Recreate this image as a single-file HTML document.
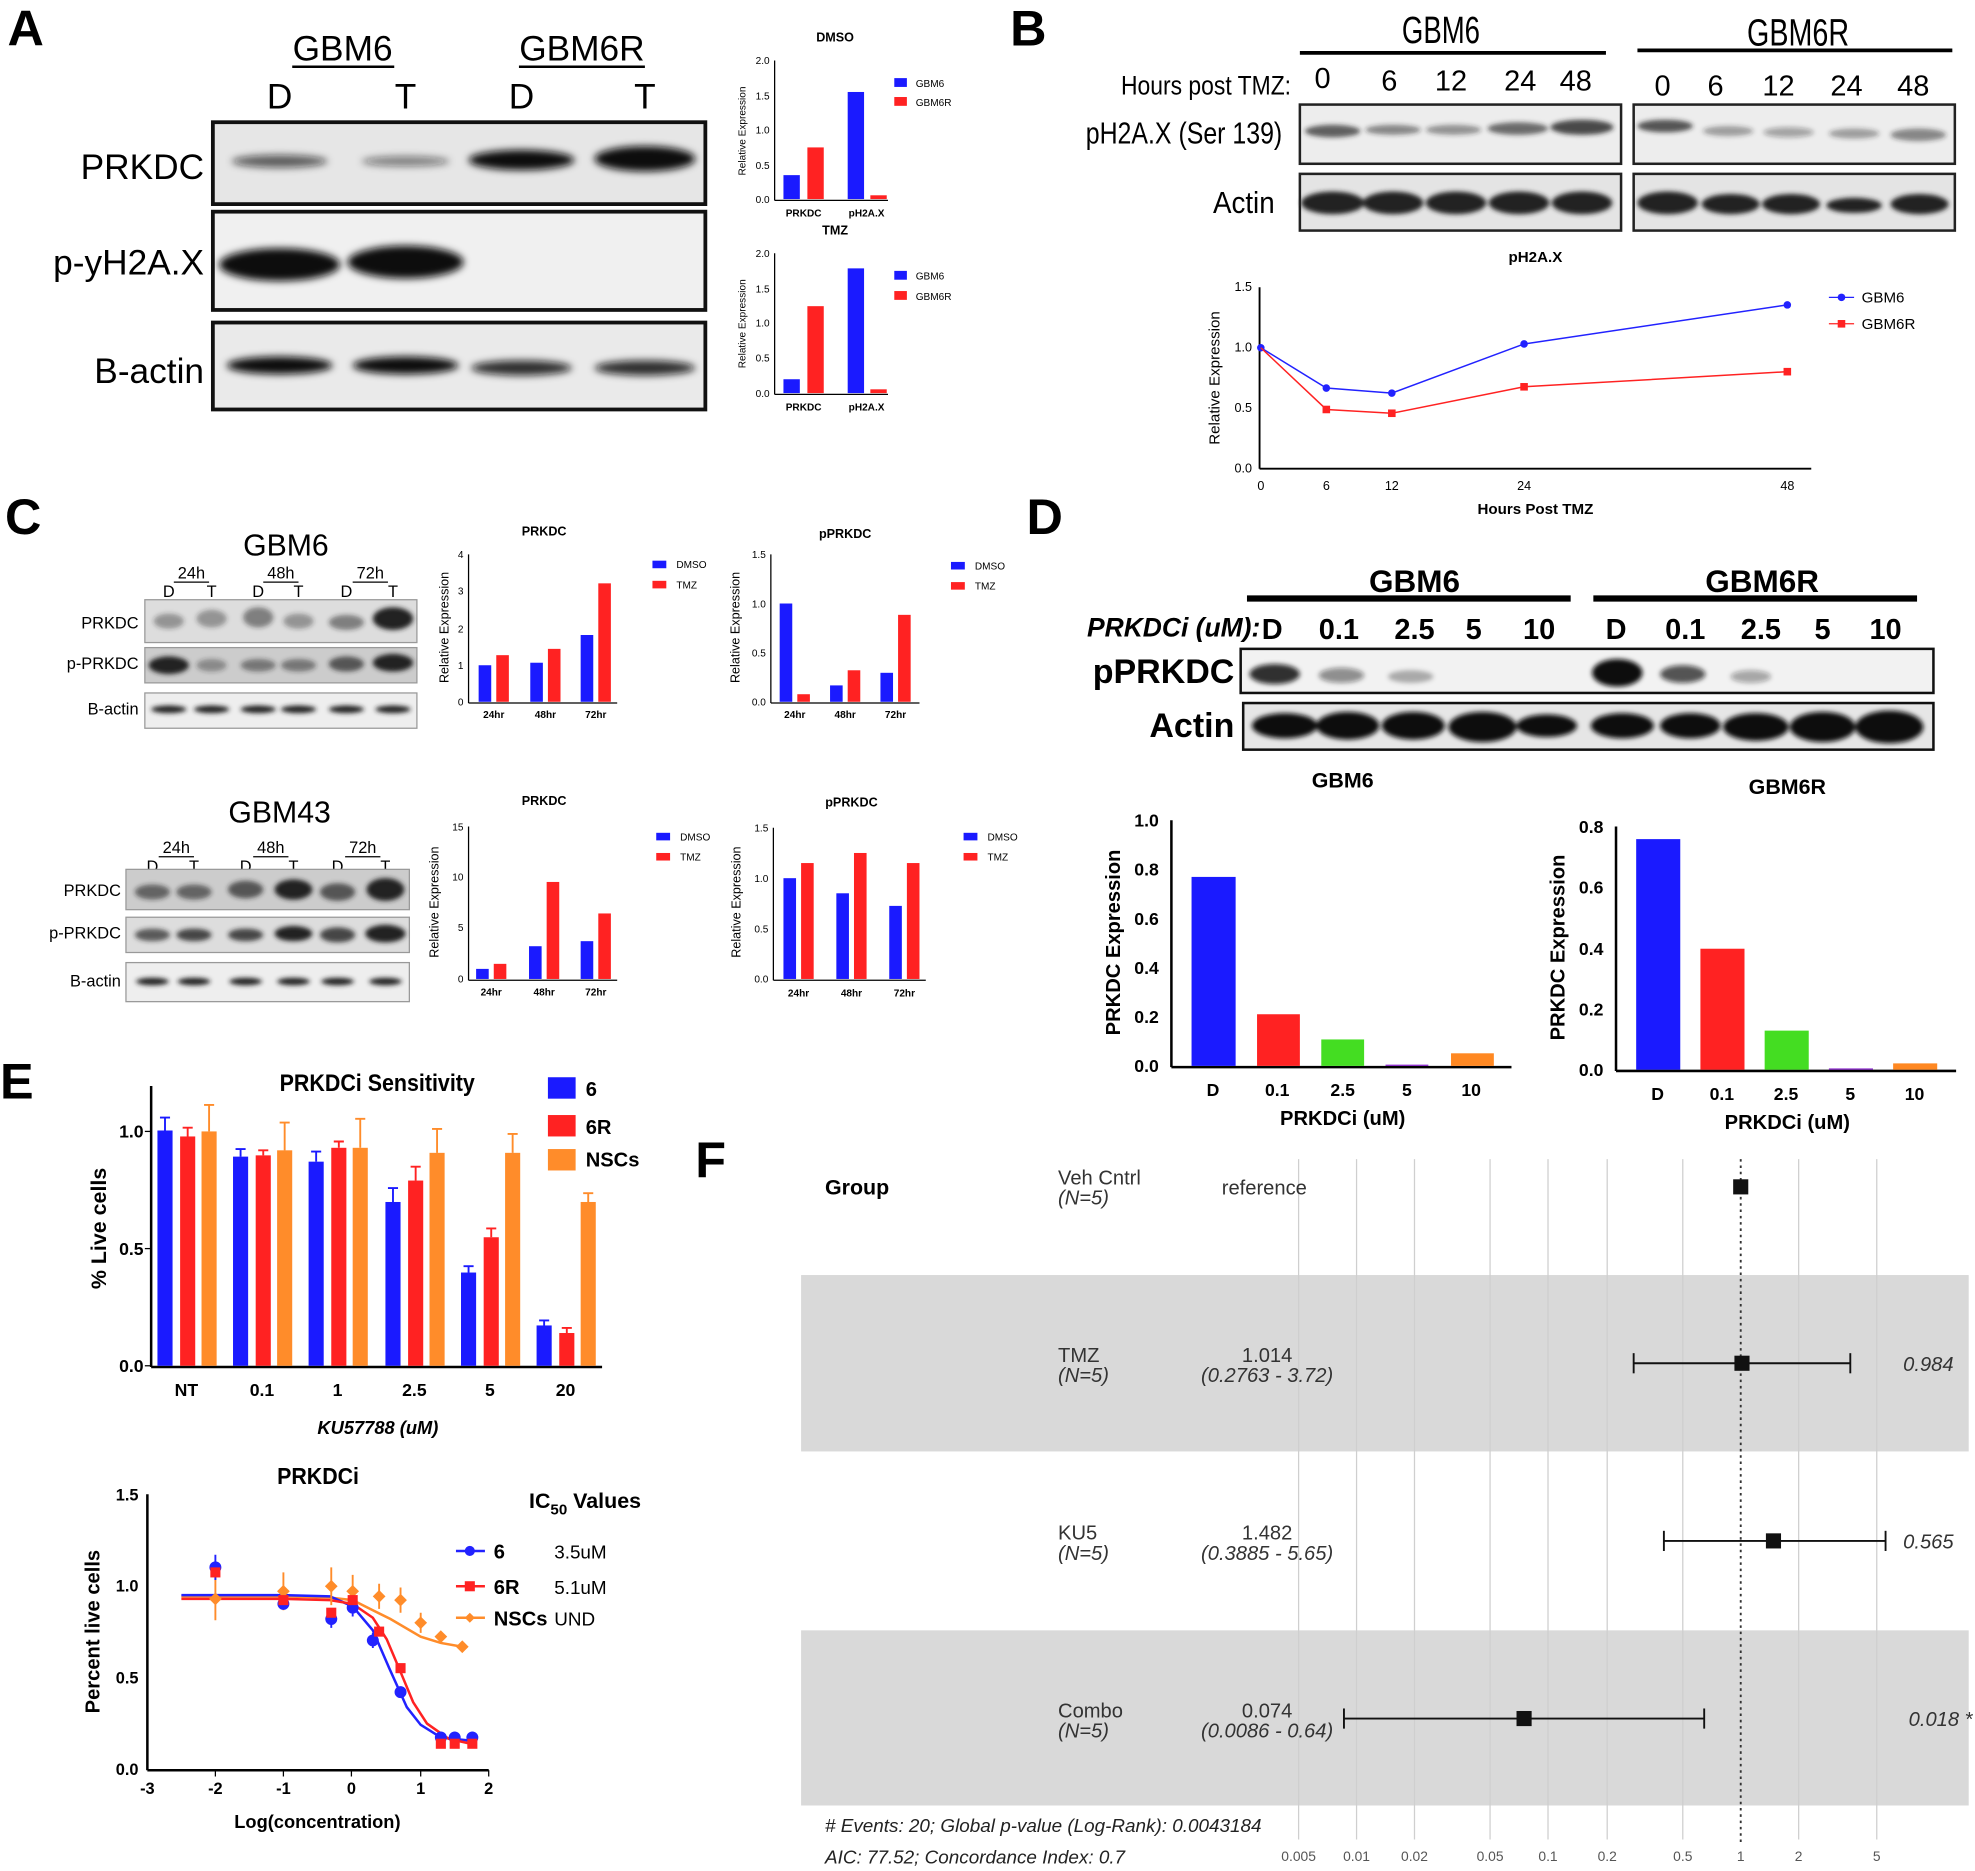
<!DOCTYPE html>
<html><head><meta charset="utf-8"><style>
html,body{margin:0;padding:0;background:#fff;}
svg{display:block;font-family:"Liberation Sans",sans-serif;}
</style></head><body>
<svg width="1975" height="1871" viewBox="0 0 1568 1485" preserveAspectRatio="none" xmlns="http://www.w3.org/2000/svg">
<defs>
<filter id="bl" x="-50%" y="-100%" width="200%" height="300%"><feGaussianBlur stdDeviation="3"/></filter>
<filter id="bl2" x="-50%" y="-100%" width="200%" height="300%"><feGaussianBlur stdDeviation="2"/></filter>
</defs>
<rect width="1568" height="1485" fill="#fff"/>

<!-- ===== Panel A ===== -->
<text x="6" y="36" font-size="40" font-weight="bold">A</text>
<text x="272" y="48" font-size="28" text-anchor="middle">GBM6</text>
<line x1="232" y1="53" x2="313" y2="53" stroke="#000" stroke-width="2"/>
<text x="462" y="48" font-size="28" text-anchor="middle">GBM6R</text>
<line x1="412" y1="53" x2="512" y2="53" stroke="#000" stroke-width="2"/>
<g font-size="28" text-anchor="middle"><text x="222" y="86">D</text><text x="322" y="86">T</text><text x="414" y="86">D</text><text x="512" y="86">T</text></g>
<g font-size="28" text-anchor="end"><text x="162" y="142">PRKDC</text><text x="162" y="218">p-yH2A.X</text><text x="162" y="304">B-actin</text></g>
<rect x="169" y="97" width="391" height="65" fill="#e6e6e6" stroke="#111" stroke-width="3"/>
<rect x="169" y="168" width="391" height="78" fill="#f0f0f0" stroke="#111" stroke-width="3"/>
<rect x="169" y="256" width="391" height="69" fill="#eaeaea" stroke="#111" stroke-width="3"/>
<g filter="url(#bl)" fill="#111">
<ellipse cx="222" cy="128" rx="38" ry="5" opacity="0.65"/><ellipse cx="322" cy="128" rx="35" ry="4" opacity="0.5"/>
<ellipse cx="414" cy="127" rx="42" ry="8"/><ellipse cx="512" cy="126" rx="40" ry="10"/>
<ellipse cx="222" cy="210" rx="48" ry="13"/><ellipse cx="322" cy="208" rx="46" ry="13"/>
<ellipse cx="222" cy="290" rx="42" ry="7"/><ellipse cx="322" cy="290" rx="42" ry="7"/>
<ellipse cx="414" cy="292" rx="40" ry="6" opacity="0.85"/><ellipse cx="512" cy="292" rx="40" ry="6" opacity="0.85"/>
</g>

<!-- A small chart DMSO -->
<g font-size="8">
<text x="663" y="33" font-size="10" font-weight="bold" text-anchor="middle">DMSO</text>
<line x1="615" y1="48" x2="615" y2="159" stroke="#000"/>
<line x1="615" y1="159" x2="705" y2="159" stroke="#000"/>
<g text-anchor="end"><text x="611" y="161">0.0</text><text x="611" y="134">0.5</text><text x="611" y="106">1.0</text><text x="611" y="79">1.5</text><text x="611" y="51">2.0</text></g>
<rect x="622" y="139" width="13" height="19" fill="#1a1aff"/><rect x="641" y="117" width="13" height="41" fill="#ff2222"/>
<rect x="673" y="73" width="13" height="85" fill="#1a1aff"/><rect x="691" y="155" width="13" height="3" fill="#ff2222"/>
<text x="638" y="172" font-weight="bold" text-anchor="middle">PRKDC</text><text x="688" y="172" font-weight="bold" text-anchor="middle">pH2A.X</text>
<text transform="translate(592,104) rotate(-90)" text-anchor="middle">Relative Expression</text>
<rect x="710" y="62" width="10" height="7" fill="#1a1aff"/><text x="727" y="69">GBM6</text>
<rect x="710" y="77" width="10" height="7" fill="#ff2222"/><text x="727" y="84">GBM6R</text>
</g>
<!-- A small chart TMZ -->
<g font-size="8">
<text x="663" y="186" font-size="10" font-weight="bold" text-anchor="middle">TMZ</text>
<line x1="615" y1="201" x2="615" y2="313" stroke="#000"/>
<line x1="615" y1="313" x2="705" y2="313" stroke="#000"/>
<g text-anchor="end"><text x="611" y="315">0.0</text><text x="611" y="287">0.5</text><text x="611" y="259">1.0</text><text x="611" y="232">1.5</text><text x="611" y="204">2.0</text></g>
<rect x="622" y="301" width="13" height="11" fill="#1a1aff"/><rect x="641" y="243" width="13" height="69" fill="#ff2222"/>
<rect x="673" y="213" width="13" height="99" fill="#1a1aff"/><rect x="691" y="309" width="13" height="3" fill="#ff2222"/>
<text x="638" y="326" font-weight="bold" text-anchor="middle">PRKDC</text><text x="688" y="326" font-weight="bold" text-anchor="middle">pH2A.X</text>
<text transform="translate(592,257) rotate(-90)" text-anchor="middle">Relative Expression</text>
<rect x="710" y="215" width="10" height="7" fill="#1a1aff"/><text x="727" y="222">GBM6</text>
<rect x="710" y="231" width="10" height="7" fill="#ff2222"/><text x="727" y="238">GBM6R</text>
</g>

<!-- ===== Panel B ===== -->
<text x="802" y="36" font-size="40" font-weight="bold">B</text>
<g>
<text x="1113" y="34" font-size="30" textLength="62" lengthAdjust="spacingAndGlyphs">GBM6</text>
<text x="1387" y="36" font-size="30" textLength="81" lengthAdjust="spacingAndGlyphs">GBM6R</text>
<text x="890" y="75" font-size="21" textLength="135" lengthAdjust="spacingAndGlyphs">Hours post TMZ:</text>
<g font-size="23" text-anchor="middle"><text x="1050" y="70">0</text><text x="1103" y="72">6</text><text x="1152" y="72">12</text><text x="1207" y="72">24</text><text x="1251" y="72">48</text>
<text x="1320" y="76">0</text><text x="1362" y="76">6</text><text x="1412" y="76">12</text><text x="1466" y="76">24</text><text x="1519" y="76">48</text></g>
<text x="862" y="114" font-size="24" textLength="156" lengthAdjust="spacingAndGlyphs">pH2A.X (Ser 139)</text>
<text x="963" y="169" font-size="24" textLength="49" lengthAdjust="spacingAndGlyphs">Actin</text>
</g>
<line x1="1032" y1="42" x2="1275" y2="42" stroke="#000" stroke-width="3"/>
<line x1="1300" y1="40" x2="1550" y2="40" stroke="#000" stroke-width="3"/>
<rect x="1032" y="83" width="255" height="47" fill="#ededed" stroke="#222" stroke-width="2"/>
<rect x="1297" y="83" width="255" height="47" fill="#ededed" stroke="#222" stroke-width="2"/>
<rect x="1032" y="138" width="255" height="45" fill="#e4e4e4" stroke="#222" stroke-width="2"/>
<rect x="1297" y="138" width="255" height="45" fill="#e4e4e4" stroke="#222" stroke-width="2"/>
<g filter="url(#bl2)" fill="#222">
<ellipse cx="1058" cy="104" rx="22" ry="5" opacity="0.7"/><ellipse cx="1106" cy="103" rx="22" ry="4" opacity="0.5"/><ellipse cx="1154" cy="103" rx="22" ry="4" opacity="0.45"/><ellipse cx="1205" cy="102" rx="24" ry="5" opacity="0.65"/><ellipse cx="1256" cy="101" rx="25" ry="6" opacity="0.8"/>
<ellipse cx="1322" cy="100" rx="22" ry="5" opacity="0.75"/><ellipse cx="1372" cy="104" rx="20" ry="4" opacity="0.4"/><ellipse cx="1420" cy="105" rx="20" ry="4" opacity="0.35"/><ellipse cx="1472" cy="106" rx="20" ry="4" opacity="0.4"/><ellipse cx="1523" cy="107" rx="22" ry="5" opacity="0.5"/>
<ellipse cx="1058" cy="161" rx="25" ry="9"/><ellipse cx="1106" cy="161" rx="24" ry="9"/><ellipse cx="1156" cy="161" rx="24" ry="9"/><ellipse cx="1206" cy="161" rx="24" ry="9"/><ellipse cx="1256" cy="161" rx="24" ry="9"/>
<ellipse cx="1324" cy="161" rx="24" ry="9"/><ellipse cx="1374" cy="162" rx="23" ry="8"/><ellipse cx="1422" cy="162" rx="23" ry="8"/><ellipse cx="1472" cy="163" rx="22" ry="6"/><ellipse cx="1524" cy="162" rx="23" ry="8"/>
</g>
<!-- B line chart -->
<g font-size="10">
<text x="1219" y="208" font-size="12" font-weight="bold" text-anchor="middle">pH2A.X</text>
<line x1="1000" y1="228" x2="1000" y2="372" stroke="#000" stroke-width="1.5"/>
<line x1="1000" y1="372" x2="1438" y2="372" stroke="#000" stroke-width="1.5"/>
<g text-anchor="end"><text x="994" y="375">0.0</text><text x="994" y="327">0.5</text><text x="994" y="279">1.0</text><text x="994" y="231">1.5</text></g>
<g text-anchor="middle"><text x="1001" y="389">0</text><text x="1053" y="389">6</text><text x="1105" y="389">12</text><text x="1210" y="389">24</text><text x="1419" y="389">48</text></g>
<text x="1219" y="408" font-size="12" font-weight="bold" text-anchor="middle">Hours Post TMZ</text>
<text transform="translate(968,300) rotate(-90)" font-size="12" text-anchor="middle">Relative Expression</text>
<polyline points="1001,276 1053,308 1105,312 1210,273 1419,242" fill="none" stroke="#2222ff" stroke-width="1.2"/>
<g fill="#2222ff"><circle cx="1001" cy="276" r="3"/><circle cx="1053" cy="308" r="3"/><circle cx="1105" cy="312" r="3"/><circle cx="1210" cy="273" r="3"/><circle cx="1419" cy="242" r="3"/></g>
<polyline points="1001,276 1053,325 1105,328 1210,307 1419,295" fill="none" stroke="#ff2222" stroke-width="1.2"/>
<g fill="#ff2222"><rect x="1050" y="322" width="6" height="6"/><rect x="1102" y="325" width="6" height="6"/><rect x="1207" y="304" width="6" height="6"/><rect x="1416" y="292" width="6" height="6"/></g>
<line x1="1452" y1="236" x2="1472" y2="236" stroke="#2222ff"/><circle cx="1462" cy="236" r="3" fill="#2222ff"/><text x="1478" y="240" font-size="12">GBM6</text>
<line x1="1452" y1="257" x2="1472" y2="257" stroke="#ff2222"/><rect x="1459" y="254" width="6" height="6" fill="#ff2222"/><text x="1478" y="261" font-size="12">GBM6R</text>
</g>

<!-- ===== Panel C ===== -->
<text x="4" y="424" font-size="40" font-weight="bold">C</text>
<text x="227" y="441" font-size="24" text-anchor="middle">GBM6</text>
<g font-size="13" text-anchor="middle"><text x="152" y="459">24h</text><text x="223" y="459">48h</text><text x="294" y="459">72h</text>
<text x="134" y="474">D</text><text x="168" y="474">T</text><text x="205" y="474">D</text><text x="237" y="474">T</text><text x="275" y="474">D</text><text x="312" y="474">T</text></g>
<g stroke="#000"><line x1="138" y1="462" x2="166" y2="462"/><line x1="209" y1="462" x2="237" y2="462"/><line x1="280" y1="462" x2="308" y2="462"/></g>
<g font-size="13" text-anchor="end"><text x="110" y="499">PRKDC</text><text x="110" y="531">p-PRKDC</text><text x="110" y="567">B-actin</text></g>
<rect x="115" y="476" width="216" height="34" fill="#ddd" stroke="#999"/>
<rect x="115" y="514" width="216" height="28" fill="#ccc" stroke="#999"/>
<rect x="115" y="550" width="216" height="28" fill="#eee" stroke="#999"/>
<g filter="url(#bl2)" fill="#222">
<ellipse cx="134" cy="493" rx="12" ry="6" opacity="0.4"/><ellipse cx="168" cy="491" rx="12" ry="7" opacity="0.4"/><ellipse cx="205" cy="490" rx="12" ry="8" opacity="0.5"/><ellipse cx="237" cy="493" rx="12" ry="6" opacity="0.4"/><ellipse cx="275" cy="494" rx="14" ry="6" opacity="0.5"/><ellipse cx="312" cy="491" rx="16" ry="9"/>
<ellipse cx="134" cy="528" rx="16" ry="7"/><ellipse cx="168" cy="528" rx="12" ry="5" opacity="0.4"/><ellipse cx="205" cy="528" rx="14" ry="5" opacity="0.5"/><ellipse cx="237" cy="528" rx="14" ry="5" opacity="0.5"/><ellipse cx="275" cy="527" rx="14" ry="6" opacity="0.7"/><ellipse cx="312" cy="526" rx="16" ry="7"/>
<ellipse cx="134" cy="563" rx="14" ry="3"/><ellipse cx="168" cy="563" rx="14" ry="3"/><ellipse cx="205" cy="563" rx="14" ry="3"/><ellipse cx="237" cy="563" rx="14" ry="3"/><ellipse cx="275" cy="563" rx="14" ry="3"/><ellipse cx="312" cy="563" rx="14" ry="3"/>
</g>

<text x="222" y="653" font-size="24" text-anchor="middle">GBM43</text>
<g font-size="13" text-anchor="middle"><text x="140" y="677">24h</text><text x="215" y="677">48h</text><text x="288" y="677">72h</text>
<text x="121" y="692">D</text><text x="154" y="692">T</text><text x="195" y="692">D</text><text x="233" y="692">T</text><text x="268" y="692">D</text><text x="306" y="692">T</text></g>
<g stroke="#000"><line x1="126" y1="680" x2="154" y2="680"/><line x1="201" y1="680" x2="229" y2="680"/><line x1="274" y1="680" x2="302" y2="680"/></g>
<g font-size="13" text-anchor="end"><text x="96" y="711">PRKDC</text><text x="96" y="745">p-PRKDC</text><text x="96" y="783">B-actin</text></g>
<rect x="100" y="690" width="225" height="32" fill="#ccc" stroke="#999"/>
<rect x="100" y="728" width="225" height="28" fill="#ddd" stroke="#999"/>
<rect x="100" y="764" width="225" height="31" fill="#eee" stroke="#999"/>
<g filter="url(#bl2)" fill="#222">
<ellipse cx="121" cy="708" rx="14" ry="6" opacity="0.6"/><ellipse cx="154" cy="708" rx="14" ry="6" opacity="0.6"/><ellipse cx="195" cy="706" rx="14" ry="7" opacity="0.7"/><ellipse cx="233" cy="706" rx="15" ry="8"/><ellipse cx="268" cy="708" rx="14" ry="7" opacity="0.7"/><ellipse cx="306" cy="706" rx="15" ry="9"/>
<ellipse cx="121" cy="742" rx="14" ry="5" opacity="0.7"/><ellipse cx="154" cy="742" rx="14" ry="5" opacity="0.8"/><ellipse cx="195" cy="742" rx="14" ry="5" opacity="0.8"/><ellipse cx="233" cy="741" rx="15" ry="6"/><ellipse cx="268" cy="742" rx="14" ry="6" opacity="0.8"/><ellipse cx="306" cy="741" rx="16" ry="7"/>
<ellipse cx="121" cy="779" rx="13" ry="3"/><ellipse cx="154" cy="779" rx="13" ry="3"/><ellipse cx="195" cy="779" rx="13" ry="3"/><ellipse cx="233" cy="779" rx="13" ry="3"/><ellipse cx="268" cy="779" rx="13" ry="3"/><ellipse cx="306" cy="779" rx="13" ry="3"/>
</g>

<g font-size="8">
<!-- C PRKDC top -->
<text x="432" y="425" font-size="10" font-weight="bold" text-anchor="middle">PRKDC</text>
<line x1="372" y1="440" x2="372" y2="558" stroke="#000"/><line x1="372" y1="558" x2="490" y2="558" stroke="#000"/>
<g text-anchor="end"><text x="368" y="560">0</text><text x="368" y="531">1</text><text x="368" y="502">2</text><text x="368" y="472">3</text><text x="368" y="443">4</text></g>
<g fill="#1a1aff"><rect x="380" y="528" width="10" height="29"/><rect x="421" y="526" width="10" height="31"/><rect x="461" y="504" width="10" height="53"/></g>
<g fill="#ff2222"><rect x="394" y="520" width="10" height="37"/><rect x="435" y="515" width="10" height="42"/><rect x="475" y="463" width="10" height="94"/></g>
<g font-weight="bold" text-anchor="middle"><text x="392" y="570">24hr</text><text x="433" y="570">48hr</text><text x="473" y="570">72hr</text></g>
<text transform="translate(356,498) rotate(-90)" font-size="10" text-anchor="middle">Relative Expression</text>
<rect x="518" y="445" width="11" height="6" fill="#1a1aff"/><text x="537" y="451">DMSO</text>
<rect x="518" y="461" width="11" height="6" fill="#ff2222"/><text x="537" y="467">TMZ</text>
<!-- C pPRKDC top -->
<text x="671" y="427" font-size="10" font-weight="bold" text-anchor="middle">pPRKDC</text>
<line x1="612" y1="440" x2="612" y2="558" stroke="#000"/><line x1="612" y1="558" x2="730" y2="558" stroke="#000"/>
<g text-anchor="end"><text x="608" y="560">0.0</text><text x="608" y="521">0.5</text><text x="608" y="482">1.0</text><text x="608" y="443">1.5</text></g>
<g fill="#1a1aff"><rect x="619" y="479" width="10" height="78"/><rect x="659" y="544" width="10" height="13"/><rect x="699" y="534" width="10" height="23"/></g>
<g fill="#ff2222"><rect x="633" y="551" width="10" height="6"/><rect x="673" y="532" width="10" height="25"/><rect x="713" y="488" width="10" height="69"/></g>
<g font-weight="bold" text-anchor="middle"><text x="631" y="570">24hr</text><text x="671" y="570">48hr</text><text x="711" y="570">72hr</text></g>
<text transform="translate(587,498) rotate(-90)" font-size="10" text-anchor="middle">Relative Expression</text>
<rect x="755" y="446" width="11" height="6" fill="#1a1aff"/><text x="774" y="452">DMSO</text>
<rect x="755" y="462" width="11" height="6" fill="#ff2222"/><text x="774" y="468">TMZ</text>
<!-- C PRKDC bottom -->
<text x="432" y="639" font-size="10" font-weight="bold" text-anchor="middle">PRKDC</text>
<line x1="372" y1="656" x2="372" y2="778" stroke="#000"/><line x1="372" y1="778" x2="490" y2="778" stroke="#000"/>
<g text-anchor="end"><text x="368" y="780">0</text><text x="368" y="739">5</text><text x="368" y="699">10</text><text x="368" y="659">15</text></g>
<g fill="#1a1aff"><rect x="378" y="769" width="10" height="8"/><rect x="420" y="751" width="10" height="26"/><rect x="461" y="747" width="10" height="30"/></g>
<g fill="#ff2222"><rect x="392" y="765" width="10" height="12"/><rect x="434" y="700" width="10" height="77"/><rect x="475" y="725" width="10" height="52"/></g>
<g font-weight="bold" text-anchor="middle"><text x="390" y="790">24hr</text><text x="432" y="790">48hr</text><text x="473" y="790">72hr</text></g>
<text transform="translate(348,716) rotate(-90)" font-size="10" text-anchor="middle">Relative Expression</text>
<rect x="521" y="661" width="11" height="6" fill="#1a1aff"/><text x="540" y="667">DMSO</text>
<rect x="521" y="677" width="11" height="6" fill="#ff2222"/><text x="540" y="683">TMZ</text>
<!-- C pPRKDC bottom -->
<text x="676" y="640" font-size="10" font-weight="bold" text-anchor="middle">pPRKDC</text>
<line x1="614" y1="657" x2="614" y2="778" stroke="#000"/><line x1="614" y1="778" x2="735" y2="778" stroke="#000"/>
<g text-anchor="end"><text x="610" y="780">0.0</text><text x="610" y="740">0.5</text><text x="610" y="700">1.0</text><text x="610" y="660">1.5</text></g>
<g fill="#1a1aff"><rect x="622" y="697" width="10" height="80"/><rect x="664" y="709" width="10" height="68"/><rect x="706" y="719" width="10" height="58"/></g>
<g fill="#ff2222"><rect x="636" y="685" width="10" height="92"/><rect x="678" y="677" width="10" height="100"/><rect x="720" y="685" width="10" height="92"/></g>
<g font-weight="bold" text-anchor="middle"><text x="634" y="791">24hr</text><text x="676" y="791">48hr</text><text x="718" y="791">72hr</text></g>
<text transform="translate(588,716) rotate(-90)" font-size="10" text-anchor="middle">Relative Expression</text>
<rect x="765" y="661" width="11" height="6" fill="#1a1aff"/><text x="784" y="667">DMSO</text>
<rect x="765" y="677" width="11" height="6" fill="#ff2222"/><text x="784" y="683">TMZ</text>
</g>

<!-- ===== Panel D ===== -->
<text x="815" y="424" font-size="40" font-weight="bold">D</text>
<g font-weight="bold">
<text x="1123" y="470" font-size="25" text-anchor="middle">GBM6</text>
<text x="1399" y="470" font-size="25" text-anchor="middle">GBM6R</text>
<text x="863" y="505" font-size="21" font-style="italic">PRKDCi (uM):</text>
<g font-size="23" text-anchor="middle"><text x="1010" y="507">D</text><text x="1063" y="507">0.1</text><text x="1123" y="507">2.5</text><text x="1170" y="507">5</text><text x="1222" y="507">10</text>
<text x="1283" y="507">D</text><text x="1338" y="507">0.1</text><text x="1398" y="507">2.5</text><text x="1447" y="507">5</text><text x="1497" y="507">10</text></g>
<text x="980" y="542" font-size="27" text-anchor="end">pPRKDC</text>
<text x="980" y="585" font-size="27" text-anchor="end">Actin</text>
</g>
<line x1="990" y1="475" x2="1247" y2="475" stroke="#000" stroke-width="5"/>
<line x1="1265" y1="475" x2="1522" y2="475" stroke="#000" stroke-width="5"/>
<rect x="985" y="515" width="550" height="35" fill="#f2f2f2" stroke="#111" stroke-width="2"/>
<rect x="987" y="558" width="548" height="37" fill="#e6e6e6" stroke="#111" stroke-width="2"/>
<g filter="url(#bl2)" fill="#111">
<ellipse cx="1012" cy="535" rx="20" ry="8" opacity="0.85"/><ellipse cx="1065" cy="536" rx="18" ry="6" opacity="0.45"/><ellipse cx="1120" cy="537" rx="18" ry="5" opacity="0.3"/>
<ellipse cx="1284" cy="534" rx="20" ry="11"/><ellipse cx="1336" cy="535" rx="18" ry="7" opacity="0.7"/><ellipse cx="1390" cy="537" rx="16" ry="5" opacity="0.35"/>
<ellipse cx="1020" cy="576" rx="26" ry="10"/><ellipse cx="1070" cy="576" rx="25" ry="11"/><ellipse cx="1122" cy="576" rx="25" ry="11"/><ellipse cx="1177" cy="577" rx="27" ry="12"/><ellipse cx="1228" cy="576" rx="24" ry="9"/>
<ellipse cx="1288" cy="576" rx="25" ry="10"/><ellipse cx="1342" cy="576" rx="24" ry="10"/><ellipse cx="1394" cy="577" rx="26" ry="11"/><ellipse cx="1447" cy="577" rx="26" ry="12"/><ellipse cx="1500" cy="577" rx="27" ry="13"/>
</g>
<!-- D charts -->
<g font-size="14" font-weight="bold">
<text x="1066" y="625" font-size="17" text-anchor="middle">GBM6</text>
<line x1="930" y1="651" x2="930" y2="847" stroke="#000" stroke-width="2"/><line x1="930" y1="847" x2="1200" y2="847" stroke="#000" stroke-width="2"/>
<g text-anchor="end"><text x="920" y="851">0.0</text><text x="920" y="812">0.2</text><text x="920" y="773">0.4</text><text x="920" y="734">0.6</text><text x="920" y="695">0.8</text><text x="920" y="656">1.0</text></g>
<rect x="946" y="696" width="35" height="150" fill="#1a1aff"/><rect x="998" y="805" width="34" height="41" fill="#ff2222"/><rect x="1049" y="825" width="34" height="21" fill="#44dd22"/><rect x="1100" y="845" width="34" height="1" fill="#8822cc"/><rect x="1152" y="836" width="34" height="10" fill="#ff8822"/>
<g text-anchor="middle"><text x="963" y="870">D</text><text x="1014" y="870">0.1</text><text x="1066" y="870">2.5</text><text x="1117" y="870">5</text><text x="1168" y="870">10</text></g>
<text x="1066" y="893" font-size="16" text-anchor="middle">PRKDCi (uM)</text>
<text transform="translate(889,748) rotate(-90)" font-size="16" text-anchor="middle">PRKDC Expression</text>

<text x="1419" y="630" font-size="17" text-anchor="middle">GBM6R</text>
<line x1="1283" y1="656" x2="1283" y2="850" stroke="#000" stroke-width="2"/><line x1="1283" y1="850" x2="1553" y2="850" stroke="#000" stroke-width="2"/>
<g text-anchor="end"><text x="1273" y="854">0.0</text><text x="1273" y="806">0.2</text><text x="1273" y="758">0.4</text><text x="1273" y="709">0.6</text><text x="1273" y="661">0.8</text></g>
<rect x="1299" y="666" width="35" height="183" fill="#1a1aff"/><rect x="1350" y="753" width="35" height="96" fill="#ff2222"/><rect x="1401" y="818" width="35" height="31" fill="#44dd22"/><rect x="1452" y="848" width="35" height="1" fill="#8822cc"/><rect x="1503" y="844" width="35" height="5" fill="#ff8822"/>
<g text-anchor="middle"><text x="1316" y="873">D</text><text x="1367" y="873">0.1</text><text x="1418" y="873">2.5</text><text x="1469" y="873">5</text><text x="1520" y="873">10</text></g>
<text x="1419" y="896" font-size="16" text-anchor="middle">PRKDCi (uM)</text>
<text transform="translate(1242,752) rotate(-90)" font-size="16" text-anchor="middle">PRKDC Expression</text>
</g>

<!-- ===== Panel E ===== -->
<text x="0" y="872" font-size="40" font-weight="bold">E</text>
<g font-weight="bold">
<text x="222" y="866" font-size="19" textLength="155" lengthAdjust="spacingAndGlyphs">PRKDCi Sensitivity</text>
<line x1="120" y1="862" x2="120" y2="1085" stroke="#000" stroke-width="2"/><line x1="120" y1="1085" x2="478" y2="1085" stroke="#000" stroke-width="2"/>
<g font-size="14" text-anchor="end"><text x="114" y="1089">0.0</text><text x="114" y="996">0.5</text><text x="114" y="903">1.0</text></g>
<g stroke="#000"><line x1="115" y1="1084" x2="120" y2="1084"/><line x1="115" y1="991" x2="120" y2="991"/><line x1="115" y1="898" x2="120" y2="898"/></g>
<g fill="#1a1aff"><rect x="125" y="898" width="12" height="186"/><rect x="185" y="918" width="12" height="166"/><rect x="245" y="922" width="12" height="162"/><rect x="306" y="954" width="12" height="130"/><rect x="366" y="1010" width="12" height="74"/><rect x="426" y="1052" width="12" height="32"/></g>
<g fill="#ff2222"><rect x="143" y="902" width="12" height="182"/><rect x="203" y="917" width="12" height="167"/><rect x="263" y="911" width="12" height="173"/><rect x="324" y="937" width="12" height="147"/><rect x="384" y="982" width="12" height="102"/><rect x="444" y="1058" width="12" height="26"/></g>
<g fill="#ff8c2a"><rect x="160" y="898" width="12" height="186"/><rect x="220" y="913" width="12" height="171"/><rect x="280" y="911" width="12" height="173"/><rect x="341" y="915" width="12" height="169"/><rect x="401" y="915" width="12" height="169"/><rect x="461" y="954" width="12" height="130"/></g>
<g stroke-width="1.5">
<path d="M131 898V887M127 887h8M125 898h12" stroke="#1a1aff"/><path d="M149 902V895M145 895h8" stroke="#ff2222"/><path d="M166 898V877M162 877h8" stroke="#ff8c2a"/>
<path d="M191 918V912M187 912h8" stroke="#1a1aff"/><path d="M209 917V913M205 913h8" stroke="#ff2222"/><path d="M226 913V891M222 891h8" stroke="#ff8c2a"/>
<path d="M251 922V914M247 914h8" stroke="#1a1aff"/><path d="M269 911V906M265 906h8" stroke="#ff2222"/><path d="M286 911V888M282 888h8" stroke="#ff8c2a"/>
<path d="M312 954V943M308 943h8" stroke="#1a1aff"/><path d="M330 937V926M326 926h8" stroke="#ff2222"/><path d="M347 915V896M343 896h8" stroke="#ff8c2a"/>
<path d="M372 1010V1005M368 1005h8" stroke="#1a1aff"/><path d="M390 982V975M386 975h8" stroke="#ff2222"/><path d="M407 915V900M403 900h8" stroke="#ff8c2a"/>
<path d="M432 1052V1048M428 1048h8" stroke="#1a1aff"/><path d="M450 1058V1054M446 1054h8" stroke="#ff2222"/><path d="M467 954V947M463 947h8" stroke="#ff8c2a"/>
</g>
<g font-size="14" text-anchor="middle"><text x="148" y="1108">NT</text><text x="208" y="1108">0.1</text><text x="268" y="1108">1</text><text x="329" y="1108">2.5</text><text x="389" y="1108">5</text><text x="449" y="1108">20</text></g>
<text x="252" y="1138" font-size="15" font-style="italic" textLength="96" lengthAdjust="spacingAndGlyphs">KU57788 (uM)</text>
<text transform="translate(84,975) rotate(-90)" font-size="17" text-anchor="middle">% Live cells</text>
<rect x="435" y="855" width="22" height="17" fill="#1a1aff"/><text x="465" y="870" font-size="16">6</text>
<rect x="435" y="885" width="22" height="17" fill="#ff2222"/><text x="465" y="900" font-size="16">6R</text>
<rect x="435" y="912" width="22" height="17" fill="#ff8c2a"/><text x="465" y="926" font-size="16">NSCs</text>
</g>
<!-- dose response -->
<g font-weight="bold">
<text x="220" y="1178" font-size="18" textLength="65" lengthAdjust="spacingAndGlyphs">PRKDCi</text>
<line x1="117" y1="1186" x2="117" y2="1405" stroke="#000" stroke-width="2"/><line x1="117" y1="1405" x2="388" y2="1405" stroke="#000" stroke-width="2"/>
<g font-size="13" text-anchor="end"><text x="110" y="1409">0.0</text><text x="110" y="1336">0.5</text><text x="110" y="1263">1.0</text><text x="110" y="1191">1.5</text></g>
<g font-size="13" text-anchor="middle"><text x="117" y="1424">-3</text><text x="171" y="1424">-2</text><text x="225" y="1424">-1</text><text x="279" y="1424">0</text><text x="334" y="1424">1</text><text x="388" y="1424">2</text></g>
<g stroke="#000"><line x1="171" y1="1405" x2="171" y2="1410"/><line x1="225" y1="1405" x2="225" y2="1410"/><line x1="279" y1="1405" x2="279" y2="1410"/><line x1="334" y1="1405" x2="334" y2="1410"/><line x1="388" y1="1405" x2="388" y2="1410"/></g>
<text x="186" y="1451" font-size="15" textLength="132" lengthAdjust="spacingAndGlyphs">Log(concentration)</text>
<text transform="translate(79,1295) rotate(-90)" font-size="16" text-anchor="middle">Percent live cells</text>
<text x="420" y="1197" font-size="17">IC<tspan font-size="12" dy="5">50</tspan><tspan dy="-5"> Values</tspan></text>
</g>
<polyline points="144,1267 225,1267 262,1268 280,1270 296,1278 310,1285 334,1299 350,1304 367,1307" fill="none" stroke="#ff8c2a" stroke-width="2"/>
<polyline points="144,1266 225,1266 262,1267 280,1275 296,1294 309,1324 323,1355 334,1369 350,1379 378,1382" fill="none" stroke="#2222ff" stroke-width="2"/>
<polyline points="144,1269 225,1269 262,1270 280,1273 296,1284 307,1301 318,1327 328,1351 339,1368 356,1380 378,1385" fill="none" stroke="#ff2222" stroke-width="2"/>
<g stroke="#ff8c2a" stroke-width="1.5" fill="#ff8c2a">
<path d="M171 1252V1286M225 1248V1278M263 1244V1274M280 1250V1276M301 1257V1277M318 1260V1280M334 1280V1296"/>
<path d="M171 1265l4 4-4 4-4-4zM225 1259l4 4-4 4-4-4zM263 1255l4 4-4 4-4-4zM280 1259l4 4-4 4-4-4zM301 1263l4 4-4 4-4-4zM318 1266l4 4-4 4-4-4zM334 1284l4 4-4 4-4-4zM350 1295l4 4-4 4-4-4zM367 1303l4 4-4 4-4-4z"/>
</g>
<g fill="#2222ff" stroke="#2222ff" stroke-width="1.5">
<path d="M171 1234V1254M263 1278V1292M280 1269V1283M296 1296V1308"/>
<circle cx="171" cy="1244" r="4"/><circle cx="225" cy="1273" r="4"/><circle cx="263" cy="1285" r="4"/><circle cx="280" cy="1276" r="4"/><circle cx="296" cy="1302" r="4"/><circle cx="318" cy="1343" r="4"/><circle cx="350" cy="1379" r="4"/><circle cx="361" cy="1379" r="4"/><circle cx="375" cy="1379" r="4"/>
</g>
<g fill="#ff2222">
<rect x="167" y="1244" width="8" height="8"/><rect x="221" y="1266" width="8" height="8"/><rect x="259" y="1276" width="8" height="8"/><rect x="276" y="1266" width="8" height="8"/><rect x="297" y="1291" width="8" height="8"/><rect x="314" y="1320" width="8" height="8"/><rect x="346" y="1380" width="8" height="8"/><rect x="357" y="1380" width="8" height="8"/><rect x="371" y="1380" width="8" height="8"/>
</g>
<g font-weight="bold" font-size="16">
<line x1="362" y1="1231" x2="385" y2="1231" stroke="#2222ff" stroke-width="2"/><circle cx="373" cy="1231" r="4" fill="#2222ff"/><text x="392" y="1237">6</text>
<line x1="362" y1="1259" x2="385" y2="1259" stroke="#ff2222" stroke-width="2"/><rect x="369" y="1255" width="8" height="8" fill="#ff2222"/><text x="392" y="1265">6R</text>
<line x1="362" y1="1284" x2="385" y2="1284" stroke="#ff8c2a" stroke-width="2"/><path d="M373 1280l4 4-4 4-4-4z" fill="#ff8c2a"/><text x="392" y="1290">NSCs</text>
</g>
<g font-size="15"><text x="440" y="1237">3.5uM</text><text x="440" y="1265">5.1uM</text><text x="440" y="1290">UND</text></g>

<!-- ===== Panel F ===== -->
<text x="552" y="934" font-size="40" font-weight="bold">F</text>
<rect x="636" y="1012" width="927" height="140" fill="#d9d9d9"/>
<rect x="636" y="1294" width="927" height="139" fill="#d9d9d9"/>
<g stroke="#cfcfcf" stroke-width="1">
<line x1="1031" y1="920" x2="1031" y2="1460"/><line x1="1077" y1="920" x2="1077" y2="1460"/><line x1="1123" y1="920" x2="1123" y2="1460"/><line x1="1183" y1="920" x2="1183" y2="1460"/><line x1="1229" y1="920" x2="1229" y2="1460"/><line x1="1276" y1="920" x2="1276" y2="1460"/><line x1="1336" y1="920" x2="1336" y2="1460"/><line x1="1428" y1="920" x2="1428" y2="1460"/><line x1="1490" y1="920" x2="1490" y2="1460"/>
</g>
<line x1="1382" y1="920" x2="1382" y2="1462" stroke="#333" stroke-width="1.5" stroke-dasharray="2,3"/>
<text x="655" y="948" font-size="17" font-weight="bold">Group</text>
<g font-size="16" fill="#333">
<text x="840" y="940">Veh Cntrl</text><text x="840" y="956" font-style="italic">(N=5)</text>
<text x="970" y="948">reference</text>
<text x="840" y="1081">TMZ</text><text x="840" y="1097" font-style="italic">(N=5)</text>
<text x="1006" y="1081" text-anchor="middle">1.014</text><text x="1006" y="1097" font-style="italic" text-anchor="middle">(0.2763 - 3.72)</text>
<text x="840" y="1222">KU5</text><text x="840" y="1238" font-style="italic">(N=5)</text>
<text x="1006" y="1222" text-anchor="middle">1.482</text><text x="1006" y="1238" font-style="italic" text-anchor="middle">(0.3885 - 5.65)</text>
<text x="840" y="1363">Combo</text><text x="840" y="1379" font-style="italic">(N=5)</text>
<text x="1006" y="1363" text-anchor="middle">0.074</text><text x="1006" y="1379" font-style="italic" text-anchor="middle">(0.0086 - 0.64)</text>
<g font-style="italic" text-anchor="end"><text x="1551" y="1088">0.984</text><text x="1551" y="1229">0.565</text><text x="1566" y="1370">0.018 *</text></g>
</g>
<g stroke="#111" stroke-width="1.5">
<line x1="1297" y1="1082" x2="1469" y2="1082"/><line x1="1297" y1="1074" x2="1297" y2="1090"/><line x1="1469" y1="1074" x2="1469" y2="1090"/>
<line x1="1321" y1="1223" x2="1497" y2="1223"/><line x1="1321" y1="1215" x2="1321" y2="1231"/><line x1="1497" y1="1215" x2="1497" y2="1231"/>
<line x1="1067" y1="1364" x2="1353" y2="1364"/><line x1="1067" y1="1356" x2="1067" y2="1372"/><line x1="1353" y1="1356" x2="1353" y2="1372"/>
</g>
<g fill="#111"><rect x="1376" y="936" width="12" height="12"/><rect x="1377" y="1076" width="12" height="12"/><rect x="1402" y="1217" width="12" height="12"/><rect x="1204" y="1358" width="12" height="12"/></g>
<g font-size="15" font-style="italic" fill="#222"><text x="655" y="1454">#  Events: 20; Global p-value (Log-Rank): 0.0043184</text><text x="655" y="1479">AIC: 77.52; Concordance Index: 0.7</text></g>
<g font-size="11" fill="#555" text-anchor="middle"><text x="1031" y="1477">0.005</text><text x="1077" y="1477">0.01</text><text x="1123" y="1477">0.02</text><text x="1183" y="1477">0.05</text><text x="1229" y="1477">0.1</text><text x="1276" y="1477">0.2</text><text x="1336" y="1477">0.5</text><text x="1382" y="1477">1</text><text x="1428" y="1477">2</text><text x="1490" y="1477">5</text></g>
</svg>
</body></html>
